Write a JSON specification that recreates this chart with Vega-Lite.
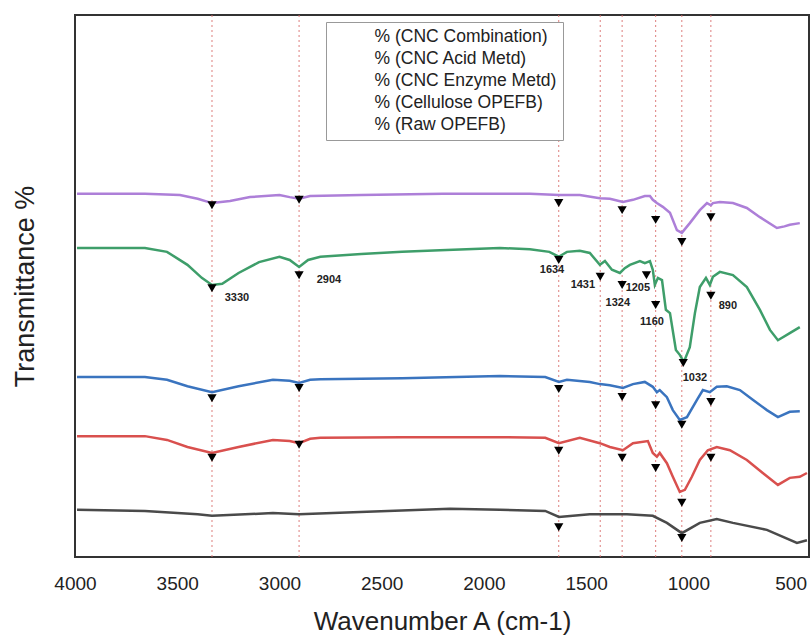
{
  "$schema": "https://vega.github.io/schema/vega-lite/v6.json",
  "width": 734,
  "height": 542,
  "autosize": {"type": "none"},
  "padding": {"left": 75, "top": 15, "right": 2, "bottom": 83},
  "config": {
    "view": {"stroke": "#333", "strokeWidth": 2},
    "font": "Liberation Sans",
    "axis": {"grid": false, "ticks": false, "domain": false, "labelFont": "Liberation Sans", "titleFont": "Liberation Sans", "titleFontWeight": "normal", "labelColor": "#222", "titleColor": "#222"}
  },
  "datasets": {
    "spectra": [
      {"s": "% (CNC Combination)", "w": 3990, "v": 67.0}, {"s": "% (CNC Combination)", "w": 3658, "v": 67.0}, {"s": "% (CNC Combination)", "w": 3487, "v": 66.8}, {"s": "% (CNC Combination)", "w": 3400, "v": 66.1}, {"s": "% (CNC Combination)", "w": 3330, "v": 65.3}, {"s": "% (CNC Combination)", "w": 3242, "v": 65.7}, {"s": "% (CNC Combination)", "w": 3144, "v": 66.4}, {"s": "% (CNC Combination)", "w": 3000, "v": 66.8}, {"s": "% (CNC Combination)", "w": 2950, "v": 66.4}, {"s": "% (CNC Combination)", "w": 2904, "v": 66.1}, {"s": "% (CNC Combination)", "w": 2850, "v": 66.6}, {"s": "% (CNC Combination)", "w": 2600, "v": 66.8}, {"s": "% (CNC Combination)", "w": 2200, "v": 67.0}, {"s": "% (CNC Combination)", "w": 1922, "v": 67.0}, {"s": "% (CNC Combination)", "w": 1775, "v": 67.0}, {"s": "% (CNC Combination)", "w": 1634, "v": 66.8}, {"s": "% (CNC Combination)", "w": 1531, "v": 66.8}, {"s": "% (CNC Combination)", "w": 1433, "v": 66.2}, {"s": "% (CNC Combination)", "w": 1384, "v": 66.1}, {"s": "% (CNC Combination)", "w": 1320, "v": 65.5}, {"s": "% (CNC Combination)", "w": 1271, "v": 65.9}, {"s": "% (CNC Combination)", "w": 1213, "v": 66.6}, {"s": "% (CNC Combination)", "w": 1188, "v": 66.6}, {"s": "% (CNC Combination)", "w": 1174, "v": 65.9}, {"s": "% (CNC Combination)", "w": 1154, "v": 65.3}, {"s": "% (CNC Combination)", "w": 1125, "v": 64.6}, {"s": "% (CNC Combination)", "w": 1090, "v": 63.5}, {"s": "% (CNC Combination)", "w": 1056, "v": 60.3}, {"s": "% (CNC Combination)", "w": 1032, "v": 59.8}, {"s": "% (CNC Combination)", "w": 993, "v": 61.6}, {"s": "% (CNC Combination)", "w": 944, "v": 64.0}, {"s": "% (CNC Combination)", "w": 909, "v": 65.3}, {"s": "% (CNC Combination)", "w": 890, "v": 64.9}, {"s": "% (CNC Combination)", "w": 880, "v": 65.3}, {"s": "% (CNC Combination)", "w": 846, "v": 65.5}, {"s": "% (CNC Combination)", "w": 782, "v": 65.3}, {"s": "% (CNC Combination)", "w": 714, "v": 64.4}, {"s": "% (CNC Combination)", "w": 650, "v": 62.7}, {"s": "% (CNC Combination)", "w": 567, "v": 60.7}, {"s": "% (CNC Combination)", "w": 530, "v": 61.0}, {"s": "% (CNC Combination)", "w": 504, "v": 61.3}, {"s": "% (CNC Combination)", "w": 455, "v": 61.6},
      {"s": "% (CNC Acid Metd)", "w": 3990, "v": 57.0}, {"s": "% (CNC Acid Metd)", "w": 3658, "v": 57.0}, {"s": "% (CNC Acid Metd)", "w": 3550, "v": 56.3}, {"s": "% (CNC Acid Metd)", "w": 3450, "v": 53.9}, {"s": "% (CNC Acid Metd)", "w": 3380, "v": 51.5}, {"s": "% (CNC Acid Metd)", "w": 3330, "v": 50.2}, {"s": "% (CNC Acid Metd)", "w": 3280, "v": 50.4}, {"s": "% (CNC Acid Metd)", "w": 3200, "v": 52.4}, {"s": "% (CNC Acid Metd)", "w": 3100, "v": 54.4}, {"s": "% (CNC Acid Metd)", "w": 3000, "v": 55.4}, {"s": "% (CNC Acid Metd)", "w": 2950, "v": 54.8}, {"s": "% (CNC Acid Metd)", "w": 2904, "v": 53.5}, {"s": "% (CNC Acid Metd)", "w": 2860, "v": 54.8}, {"s": "% (CNC Acid Metd)", "w": 2800, "v": 55.4}, {"s": "% (CNC Acid Metd)", "w": 2600, "v": 55.9}, {"s": "% (CNC Acid Metd)", "w": 2400, "v": 56.3}, {"s": "% (CNC Acid Metd)", "w": 2215, "v": 56.6}, {"s": "% (CNC Acid Metd)", "w": 1922, "v": 57.0}, {"s": "% (CNC Acid Metd)", "w": 1775, "v": 56.8}, {"s": "% (CNC Acid Metd)", "w": 1680, "v": 56.3}, {"s": "% (CNC Acid Metd)", "w": 1634, "v": 55.4}, {"s": "% (CNC Acid Metd)", "w": 1594, "v": 56.3}, {"s": "% (CNC Acid Metd)", "w": 1531, "v": 56.5}, {"s": "% (CNC Acid Metd)", "w": 1482, "v": 56.1}, {"s": "% (CNC Acid Metd)", "w": 1433, "v": 53.9}, {"s": "% (CNC Acid Metd)", "w": 1408, "v": 54.6}, {"s": "% (CNC Acid Metd)", "w": 1374, "v": 53.0}, {"s": "% (CNC Acid Metd)", "w": 1335, "v": 52.4}, {"s": "% (CNC Acid Metd)", "w": 1311, "v": 53.3}, {"s": "% (CNC Acid Metd)", "w": 1286, "v": 53.9}, {"s": "% (CNC Acid Metd)", "w": 1237, "v": 54.6}, {"s": "% (CNC Acid Metd)", "w": 1213, "v": 54.2}, {"s": "% (CNC Acid Metd)", "w": 1188, "v": 54.6}, {"s": "% (CNC Acid Metd)", "w": 1174, "v": 53.0}, {"s": "% (CNC Acid Metd)", "w": 1164, "v": 50.2}, {"s": "% (CNC Acid Metd)", "w": 1149, "v": 51.5}, {"s": "% (CNC Acid Metd)", "w": 1129, "v": 51.1}, {"s": "% (CNC Acid Metd)", "w": 1110, "v": 45.6}, {"s": "% (CNC Acid Metd)", "w": 1090, "v": 45.0}, {"s": "% (CNC Acid Metd)", "w": 1061, "v": 38.2}, {"s": "% (CNC Acid Metd)", "w": 1042, "v": 37.3}, {"s": "% (CNC Acid Metd)", "w": 1022, "v": 36.0}, {"s": "% (CNC Acid Metd)", "w": 993, "v": 38.7}, {"s": "% (CNC Acid Metd)", "w": 968, "v": 45.0}, {"s": "% (CNC Acid Metd)", "w": 944, "v": 49.8}, {"s": "% (CNC Acid Metd)", "w": 914, "v": 51.5}, {"s": "% (CNC Acid Metd)", "w": 895, "v": 50.2}, {"s": "% (CNC Acid Metd)", "w": 880, "v": 51.7}, {"s": "% (CNC Acid Metd)", "w": 846, "v": 52.6}, {"s": "% (CNC Acid Metd)", "w": 782, "v": 52.0}, {"s": "% (CNC Acid Metd)", "w": 714, "v": 49.8}, {"s": "% (CNC Acid Metd)", "w": 650, "v": 45.6}, {"s": "% (CNC Acid Metd)", "w": 601, "v": 41.9}, {"s": "% (CNC Acid Metd)", "w": 562, "v": 40.0}, {"s": "% (CNC Acid Metd)", "w": 504, "v": 41.3}, {"s": "% (CNC Acid Metd)", "w": 455, "v": 42.4},
      {"s": "% (CNC Enzyme Metd)", "w": 3990, "v": 33.2}, {"s": "% (CNC Enzyme Metd)", "w": 3658, "v": 33.2}, {"s": "% (CNC Enzyme Metd)", "w": 3550, "v": 32.7}, {"s": "% (CNC Enzyme Metd)", "w": 3450, "v": 31.5}, {"s": "% (CNC Enzyme Metd)", "w": 3330, "v": 30.4}, {"s": "% (CNC Enzyme Metd)", "w": 3200, "v": 31.5}, {"s": "% (CNC Enzyme Metd)", "w": 3032, "v": 32.7}, {"s": "% (CNC Enzyme Metd)", "w": 2950, "v": 32.5}, {"s": "% (CNC Enzyme Metd)", "w": 2904, "v": 32.1}, {"s": "% (CNC Enzyme Metd)", "w": 2850, "v": 32.7}, {"s": "% (CNC Enzyme Metd)", "w": 2800, "v": 32.8}, {"s": "% (CNC Enzyme Metd)", "w": 2400, "v": 33.0}, {"s": "% (CNC Enzyme Metd)", "w": 1922, "v": 33.4}, {"s": "% (CNC Enzyme Metd)", "w": 1700, "v": 33.2}, {"s": "% (CNC Enzyme Metd)", "w": 1633, "v": 32.3}, {"s": "% (CNC Enzyme Metd)", "w": 1594, "v": 32.7}, {"s": "% (CNC Enzyme Metd)", "w": 1482, "v": 32.3}, {"s": "% (CNC Enzyme Metd)", "w": 1433, "v": 31.9}, {"s": "% (CNC Enzyme Metd)", "w": 1384, "v": 31.7}, {"s": "% (CNC Enzyme Metd)", "w": 1320, "v": 31.2}, {"s": "% (CNC Enzyme Metd)", "w": 1271, "v": 31.9}, {"s": "% (CNC Enzyme Metd)", "w": 1213, "v": 32.3}, {"s": "% (CNC Enzyme Metd)", "w": 1174, "v": 31.4}, {"s": "% (CNC Enzyme Metd)", "w": 1154, "v": 30.4}, {"s": "% (CNC Enzyme Metd)", "w": 1140, "v": 30.8}, {"s": "% (CNC Enzyme Metd)", "w": 1105, "v": 29.5}, {"s": "% (CNC Enzyme Metd)", "w": 1076, "v": 27.1}, {"s": "% (CNC Enzyme Metd)", "w": 1042, "v": 25.3}, {"s": "% (CNC Enzyme Metd)", "w": 1007, "v": 25.8}, {"s": "% (CNC Enzyme Metd)", "w": 958, "v": 29.0}, {"s": "% (CNC Enzyme Metd)", "w": 929, "v": 30.8}, {"s": "% (CNC Enzyme Metd)", "w": 895, "v": 30.4}, {"s": "% (CNC Enzyme Metd)", "w": 861, "v": 31.4}, {"s": "% (CNC Enzyme Metd)", "w": 812, "v": 31.5}, {"s": "% (CNC Enzyme Metd)", "w": 748, "v": 30.8}, {"s": "% (CNC Enzyme Metd)", "w": 685, "v": 29.0}, {"s": "% (CNC Enzyme Metd)", "w": 616, "v": 27.1}, {"s": "% (CNC Enzyme Metd)", "w": 562, "v": 25.8}, {"s": "% (CNC Enzyme Metd)", "w": 504, "v": 26.8}, {"s": "% (CNC Enzyme Metd)", "w": 455, "v": 26.9},
      {"s": "% (Cellulose OPEFB)", "w": 3990, "v": 22.3}, {"s": "% (Cellulose OPEFB)", "w": 3658, "v": 22.3}, {"s": "% (Cellulose OPEFB)", "w": 3550, "v": 21.6}, {"s": "% (Cellulose OPEFB)", "w": 3450, "v": 20.3}, {"s": "% (Cellulose OPEFB)", "w": 3330, "v": 19.2}, {"s": "% (Cellulose OPEFB)", "w": 3200, "v": 20.3}, {"s": "% (Cellulose OPEFB)", "w": 3032, "v": 21.6}, {"s": "% (Cellulose OPEFB)", "w": 2950, "v": 21.4}, {"s": "% (Cellulose OPEFB)", "w": 2904, "v": 21.0}, {"s": "% (Cellulose OPEFB)", "w": 2850, "v": 21.8}, {"s": "% (Cellulose OPEFB)", "w": 2800, "v": 22.0}, {"s": "% (Cellulose OPEFB)", "w": 2400, "v": 22.1}, {"s": "% (Cellulose OPEFB)", "w": 1922, "v": 22.1}, {"s": "% (Cellulose OPEFB)", "w": 1700, "v": 22.0}, {"s": "% (Cellulose OPEFB)", "w": 1633, "v": 21.0}, {"s": "% (Cellulose OPEFB)", "w": 1531, "v": 22.0}, {"s": "% (Cellulose OPEFB)", "w": 1433, "v": 21.0}, {"s": "% (Cellulose OPEFB)", "w": 1384, "v": 20.3}, {"s": "% (Cellulose OPEFB)", "w": 1320, "v": 19.7}, {"s": "% (Cellulose OPEFB)", "w": 1271, "v": 21.0}, {"s": "% (Cellulose OPEFB)", "w": 1198, "v": 21.4}, {"s": "% (Cellulose OPEFB)", "w": 1174, "v": 19.2}, {"s": "% (Cellulose OPEFB)", "w": 1154, "v": 18.5}, {"s": "% (Cellulose OPEFB)", "w": 1140, "v": 19.2}, {"s": "% (Cellulose OPEFB)", "w": 1105, "v": 17.3}, {"s": "% (Cellulose OPEFB)", "w": 1076, "v": 14.8}, {"s": "% (Cellulose OPEFB)", "w": 1042, "v": 12.0}, {"s": "% (Cellulose OPEFB)", "w": 1017, "v": 12.4}, {"s": "% (Cellulose OPEFB)", "w": 983, "v": 14.8}, {"s": "% (Cellulose OPEFB)", "w": 944, "v": 17.9}, {"s": "% (Cellulose OPEFB)", "w": 905, "v": 19.7}, {"s": "% (Cellulose OPEFB)", "w": 861, "v": 20.3}, {"s": "% (Cellulose OPEFB)", "w": 797, "v": 19.7}, {"s": "% (Cellulose OPEFB)", "w": 714, "v": 17.9}, {"s": "% (Cellulose OPEFB)", "w": 636, "v": 15.5}, {"s": "% (Cellulose OPEFB)", "w": 562, "v": 13.3}, {"s": "% (Cellulose OPEFB)", "w": 504, "v": 14.6}, {"s": "% (Cellulose OPEFB)", "w": 455, "v": 14.8}, {"s": "% (Cellulose OPEFB)", "w": 420, "v": 15.5},
      {"s": "% (Raw OPEFB)", "w": 3990, "v": 8.7}, {"s": "% (Raw OPEFB)", "w": 3658, "v": 8.5}, {"s": "% (Raw OPEFB)", "w": 3400, "v": 7.9}, {"s": "% (Raw OPEFB)", "w": 3330, "v": 7.6}, {"s": "% (Raw OPEFB)", "w": 3032, "v": 8.1}, {"s": "% (Raw OPEFB)", "w": 2904, "v": 7.9}, {"s": "% (Raw OPEFB)", "w": 2606, "v": 8.3}, {"s": "% (Raw OPEFB)", "w": 2166, "v": 8.9}, {"s": "% (Raw OPEFB)", "w": 1922, "v": 8.7}, {"s": "% (Raw OPEFB)", "w": 1700, "v": 8.5}, {"s": "% (Raw OPEFB)", "w": 1633, "v": 7.4}, {"s": "% (Raw OPEFB)", "w": 1482, "v": 7.9}, {"s": "% (Raw OPEFB)", "w": 1300, "v": 7.9}, {"s": "% (Raw OPEFB)", "w": 1174, "v": 7.6}, {"s": "% (Raw OPEFB)", "w": 1105, "v": 6.3}, {"s": "% (Raw OPEFB)", "w": 1032, "v": 4.4}, {"s": "% (Raw OPEFB)", "w": 944, "v": 6.3}, {"s": "% (Raw OPEFB)", "w": 861, "v": 7.0}, {"s": "% (Raw OPEFB)", "w": 782, "v": 6.3}, {"s": "% (Raw OPEFB)", "w": 616, "v": 5.0}, {"s": "% (Raw OPEFB)", "w": 469, "v": 2.6}, {"s": "% (Raw OPEFB)", "w": 420, "v": 3.1}
    ],
    "peaks": [
      {"w": 3330}, {"w": 2904}, {"w": 1634}, {"w": 1431}, {"w": 1324}, {"w": 1160}, {"w": 1032}, {"w": 890}
    ],
    "markers": [
      {"w": 3330, "v": 64.9}, {"w": 2904, "v": 65.9}, {"w": 1634, "v": 65.3}, {"w": 1324, "v": 64.0}, {"w": 1160, "v": 62.2}, {"w": 1032, "v": 58.1}, {"w": 890, "v": 62.7},
      {"w": 3330, "v": 49.6}, {"w": 2904, "v": 52.0}, {"w": 1634, "v": 54.8}, {"w": 1431, "v": 51.7}, {"w": 1324, "v": 50.2}, {"w": 1205, "v": 52.0}, {"w": 1160, "v": 46.5}, {"w": 1025, "v": 35.8}, {"w": 890, "v": 48.2},
      {"w": 3330, "v": 29.3}, {"w": 2904, "v": 31.2}, {"w": 1634, "v": 31.0}, {"w": 1324, "v": 29.5}, {"w": 1160, "v": 28.0}, {"w": 1032, "v": 24.4}, {"w": 890, "v": 28.6},
      {"w": 3330, "v": 18.3}, {"w": 2904, "v": 20.7}, {"w": 1634, "v": 19.6}, {"w": 1324, "v": 18.3}, {"w": 1160, "v": 16.4}, {"w": 1032, "v": 10.0}, {"w": 890, "v": 18.3},
      {"w": 1634, "v": 5.5}, {"w": 1032, "v": 3.5}
    ],
    "labels": [
      {"t": "3330", "w": 3208, "v": 47.8}, {"t": "2904", "w": 2758, "v": 51.1}, {"t": "1634", "w": 1667, "v": 53.0}, {"t": "1431", "w": 1516, "v": 50.2}, {"t": "1324", "w": 1345, "v": 46.9}, {"t": "1205", "w": 1247, "v": 49.6}, {"t": "1160", "w": 1178, "v": 43.4}, {"t": "1032", "w": 968, "v": 33.0}, {"t": "890", "w": 807, "v": 46.3}
    ]
  },
  "layer": [
    {
      "data": {"name": "peaks"},
      "mark": {"type": "rule", "color": "#d9706f", "strokeWidth": 1, "strokeDash": [2, 3], "opacity": 0.9},
      "encoding": {
        "x": {"field": "w", "type": "quantitative", "scale": {"domain": [4000, 410], "nice": false, "zero": false},
          "axis": {"values": [4000, 3500, 3000, 2500, 2000, 1500, 1000, 500], "format": "d", "labelFontSize": 19, "labelPadding": 17, "labelFlush": false, "labelOverlap": false, "title": "Wavenumber A (cm-1)", "titleFontSize": 26, "titlePadding": 15}}
      }
    },
    {
      "data": {"name": "spectra"},
      "mark": {"type": "line", "strokeWidth": 2.5, "clip": true},
      "encoding": {
        "x": {"field": "w", "type": "quantitative"},
        "y": {"field": "v", "type": "quantitative", "scale": {"domain": [0, 100], "nice": false},
          "axis": {"labels": false, "title": "Transmittance %", "titleFontSize": 27, "titlePadding": 36}},
        "color": {"field": "s", "type": "nominal",
          "scale": {"domain": ["% (CNC Combination)", "% (CNC Acid Metd)", "% (CNC Enzyme Metd)", "% (Cellulose OPEFB)", "% (Raw OPEFB)"],
                    "range": ["#ad7fd8", "#3e9e6a", "#3a74bf", "#d9504e", "#4a4a4a"]},
          "legend": {"title": null, "orient": "none", "legendX": 251, "legendY": 7, "fillColor": "white", "strokeColor": "#999", "padding": 6, "symbolOpacity": 0, "symbolSize": 100, "labelOffset": 25, "labelFontSize": 17.5, "labelLimit": 400, "labelColor": "#222", "rowPadding": 3}}
      }
    },
    {
      "data": {"name": "markers"},
      "mark": {"type": "point", "shape": "triangle-down", "filled": true, "color": "#000", "size": 85, "opacity": 1},
      "encoding": {
        "x": {"field": "w", "type": "quantitative"},
        "y": {"field": "v", "type": "quantitative"}
      }
    },
    {
      "data": {"name": "labels"},
      "mark": {"type": "text", "fontSize": 11, "fontWeight": "bold", "color": "#222", "align": "center", "baseline": "middle"},
      "encoding": {
        "x": {"field": "w", "type": "quantitative"},
        "y": {"field": "v", "type": "quantitative"},
        "text": {"field": "t"}
      }
    }
  ]
}
